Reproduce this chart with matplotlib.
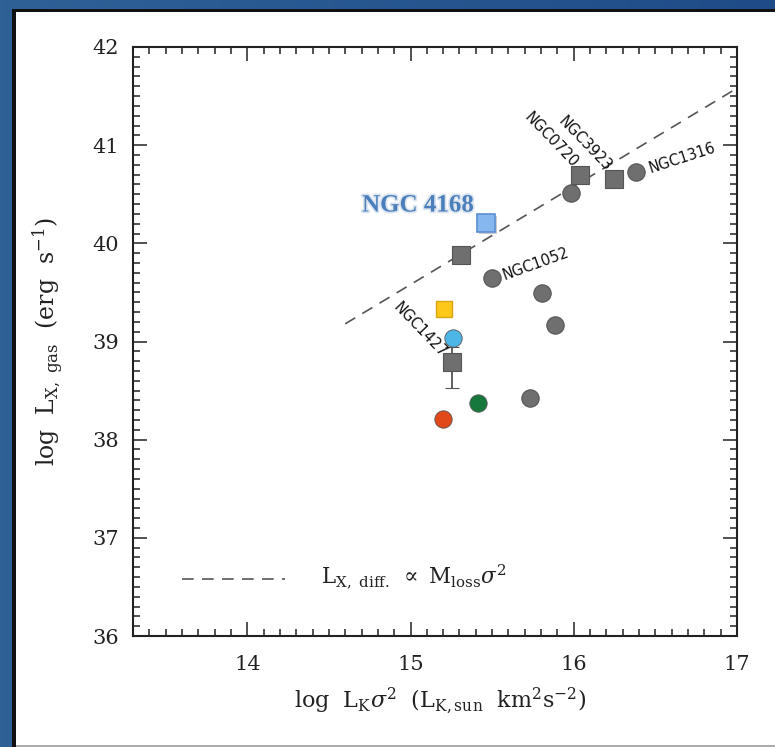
import numpy as np
import matplotlib
matplotlib.use("Agg")
import matplotlib.pyplot as plt
import matplotlib.patheffects as pe
from matplotlib.patches import Rectangle
from matplotlib.ticker import MultipleLocator
from matplotlib.colors import LinearSegmentedColormap

plt.rcParams['font.family'] = ['DejaVu Serif']
plt.rcParams['mathtext.fontset'] = 'dejavuserif'

# Gray reference galaxies: squares
sq_x = [15.31, 16.04, 16.245]
sq_y = [39.88, 40.70, 40.66]
# NGC1427 square with asymmetric error
err_x = 15.257
err_y = 38.79
err_lo = 0.26
err_hi = 0.15
# Gray reference galaxies: circles
ci_x = [15.983, 16.38, 15.50, 15.806, 15.885, 15.733]
ci_y = [40.51, 40.73, 39.65, 39.49, 39.17, 38.42]
ci_err_lo = [0, 0, 0, 0, 0, 0.06]
# Coloured points
col_x = [15.263, 15.416, 15.20]
col_y = [39.04, 38.37, 38.21]
col_c = ['#4db6e6', '#16783a', '#e2491a']
yel_x, yel_y = 15.208, 39.33
n4168_x, n4168_y = 15.46, 40.21
# Dashed scaling relation  L ∝ M_loss sigma^2  (slope 1)
rel_x = [14.6, 17.0]
rel_offset = 24.58

labels = ['NGC1316', 'NGC1052', 'NGC3923', 'NGC0720', 'NGC1427']

fig = plt.figure(figsize=(7.75, 7.47), dpi=100)

# blue frame with gradient
bg = fig.add_axes([0, 0, 1, 1], zorder=-10)
grad = np.linspace(0, 1, 256).reshape(1, -1)
cm = LinearSegmentedColormap.from_list('frame', ['#2f6197', '#1f4c88'])
bg.imshow(grad, aspect='auto', cmap=cm, extent=[0, 1, 0, 1])
bg.set_xlim(0, 1); bg.set_ylim(0, 1)
bg.axis('off')
W, H = 775, 747
bg.add_patch(Rectangle((12 / W, 0), 1, 1 - 9 / H, color='#111111', lw=0))
bg.add_patch(Rectangle((16 / W, 1 / H), 1, 1 - 13 / H, color='white', lw=0))
bg.add_patch(Rectangle((16 / W, 0), 1, 2 / H, color='#aaaaaa', lw=0))

ax = fig.add_axes([133 / W, 1 - 636 / H, (737 - 133) / W, (636 - 47) / H])
ax.set_facecolor('none')
ax.set_xlim(13.3, 17.0)
ax.set_ylim(36, 42)
ax.xaxis.set_major_locator(MultipleLocator(1))
ax.xaxis.set_minor_locator(MultipleLocator(0.1))
ax.yaxis.set_major_locator(MultipleLocator(1))
ax.yaxis.set_minor_locator(MultipleLocator(0.1))
ax.tick_params(which='both', direction='in', top=True, right=True, width=1.1, colors='#222222')
ax.tick_params(which='major', length=10)
ax.tick_params(which='minor', length=5)
ax.tick_params(axis='x', pad=14, labelsize=15)
ax.tick_params(axis='y', pad=10, labelsize=15)
for s in ax.spines.values():
    s.set_linewidth(1.5)
    s.set_color('#222222')

# scaling relation
rx = np.array(rel_x)
ax.plot(rx, rx + rel_offset, ls=(0, (7, 5)), color='#555555', lw=1.2, zorder=1)

gray = '#6f6f6f'
gedge = '#555555'
ax.plot(sq_x, sq_y, 's', ms=12.5, mfc=gray, mec=gedge, mew=0.8, ls='none', zorder=3)
ax.errorbar([err_x], [err_y], yerr=[[err_lo], [err_hi]], fmt='s', ms=12.5,
            mfc=gray, mec=gedge, mew=0.8, ecolor=gedge, elinewidth=1.3,
            capsize=5, capthick=1.3, zorder=3)
ax.errorbar(ci_x, ci_y, yerr=[ci_err_lo, [0] * len(ci_x)], fmt='o', ms=12.5,
            mfc=gray, mec=gedge, mew=0.8, ecolor=gedge, elinewidth=1.3,
            capsize=0, zorder=3)
ax.plot([yel_x], [yel_y], 's', ms=12, mfc='#fcc81a', mec='#d9a516', mew=1, zorder=4)
for x, y, c in zip(col_x, col_y, col_c):
    ax.plot([x], [y], 'o', ms=12.5, mfc=c, mec='#555555', mew=0.6, zorder=4)
ax.plot([n4168_x], [n4168_y], 's', ms=13, mfc='#86b8ef', mec='#5a8ed4', mew=1.2, zorder=4,
        path_effects=[pe.SimplePatchShadow(offset=(1.5, -1.5), alpha=0.25), pe.Normal()])

ax.text(n4168_x - 0.07, n4168_y + 0.18, 'NGC 4168', ha='right', va='center',
        family='Liberation Serif', fontweight='bold', fontsize=18, color='#4a7fbb',
        path_effects=[pe.withStroke(linewidth=2.5, foreground='#dde6f0')], zorder=5)

lab_kw = dict(family='DejaVu Sans', fontsize=10.5, color='#111111', zorder=5)
ax.text(16.46, 40.76, labels[0], rotation=18, ha='left', va='center', rotation_mode='anchor', **lab_kw)
ax.text(15.57, 39.67, labels[1], rotation=20, ha='left', va='center', rotation_mode='anchor', **lab_kw)
ax.text(16.215, 40.76, labels[2], rotation=-46, ha='right', va='center', rotation_mode='anchor', **lab_kw)
ax.text(16.01, 40.80, labels[3], rotation=-46, ha='right', va='center', rotation_mode='anchor', **lab_kw)
ax.text(15.21, 38.86, labels[4], rotation=-46, ha='right', va='center', rotation_mode='anchor', **lab_kw)

# legend line and text
ax.plot([13.60, 14.23], [36.58, 36.58], ls=(0, (7, 5)), color='#555555', lw=1.2)
ax.text(14.45, 36.60, r'$\mathrm{L_{X,\ diff.}}\ \propto\ \mathrm{M_{loss}}\sigma^2$',
        fontsize=15.5, va='center', ha='left', color='#222222')

ax.set_ylabel(r'$\mathrm{log\ \ L_{X,\ gas}\ \ (erg\ \ s^{-1})}$', fontsize=17, color='#222222')
ax.yaxis.set_label_coords(-0.113, 0.5)
ax.set_xlabel(r'$\mathrm{log\ \ L_K}\sigma^2\ \ (\mathrm{L_{K,sun}\ \ km^2s^{-2}})$', fontsize=16, color='#222222')
ax.xaxis.set_label_coords(0.508, -0.085)

fig.savefig('out.png', dpi=100)
